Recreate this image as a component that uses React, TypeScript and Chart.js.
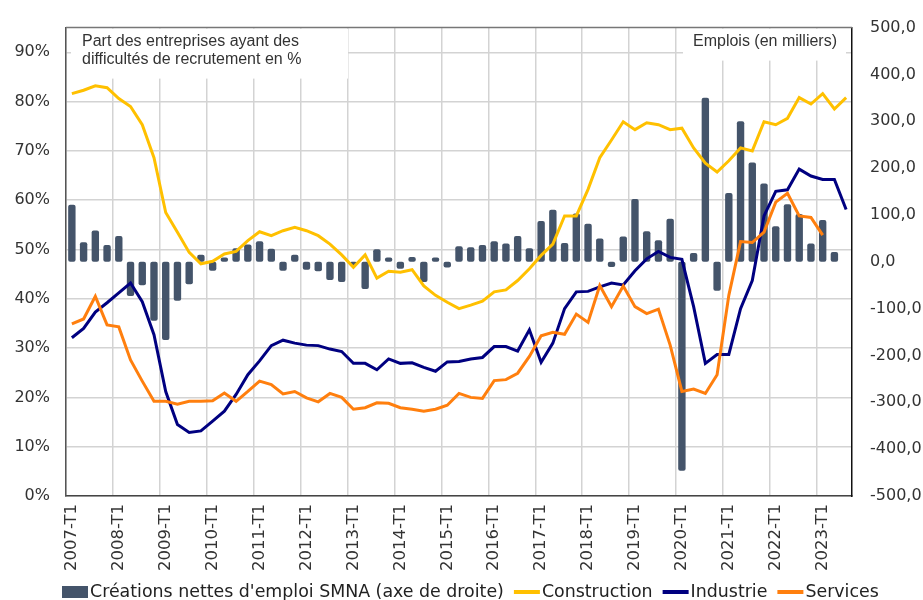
import React, { useEffect, useRef } from 'react';
import { Chart, registerables } from 'chart.js';

Chart.register(...registerables);

const YEARS = [2007, 2008, 2009, 2010, 2011, 2012, 2013, 2014, 2015, 2016, 2017, 2018, 2019, 2020, 2021, 2022, 2023];
const QUARTER_COUNT = 67;
const QUARTERS: string[] = [];
YEARS.forEach((y) => {
  [1, 2, 3, 4].forEach((q) => {
    if (QUARTERS.length < QUARTER_COUNT) QUARTERS.push(`${y}-T${q}`);
  });
});

const NET_JOBS = [
  122, 42, 67, 36, 55, -73, -50, -126, -167, -83, -48, 15, -19, 9, 29, 37,
  44, 28, -19, 15, -17, -20, -39, -43, -8, -58, 27, 9, -15, 10, -43, 9,
  -12, 33, 31, 36, 44, 39, 55, 29, 87, 111, 40, 103, 81, 50, -11, 54,
  134, 65, 46, 92, -446, 19, 350, -62, 147, 300, 212, 167, 76, 123, 102, 39,
  89, 21, null,
];

const CONSTRUCTION = [
  81.6, 82.3, 83.2, 82.8, 80.6, 79.0, 75.3, 68.6, 57.5, 53.5, 49.4, 47.1, 47.6, 49.1, 49.6, 51.8,
  53.6, 52.8, 53.8, 54.5, 53.8, 52.8, 51.1, 48.9, 46.4, 48.9, 44.2, 45.6, 45.4, 45.9, 42.6, 40.7,
  39.3, 38.0, 38.7, 39.5, 41.4, 41.8, 43.7, 46.1, 48.8, 51.1, 56.8, 56.8, 62.2, 68.6, 72.2, 75.9,
  74.3, 75.7, 75.3, 74.3, 74.6, 70.6, 67.5, 65.7, 68.0, 70.6, 70.0, 75.9, 75.3, 76.6, 80.8, 79.5,
  81.6, 78.5, 80.8,
];

const INDUSTRIE = [
  32.1, 34.0, 37.3, 39.2, 41.2, 43.2, 39.4, 32.7, 21.2, 14.5, 12.9, 13.2, 15.2, 17.2, 20.6, 24.6,
  27.4, 30.5, 31.6, 31.0, 30.6, 30.5, 29.8, 29.3, 26.9, 26.9, 25.6, 27.8, 26.9, 27.0, 26.1, 25.3,
  27.2, 27.3, 27.8, 28.1, 30.3, 30.3, 29.4, 33.7, 27.1, 31.0, 38.0, 41.4, 41.5, 42.4, 43.2, 42.8,
  45.7, 48.1, 49.6, 48.4, 48.0, 38.4, 26.9, 28.7, 28.7, 38.0, 43.7, 56.8, 61.8, 62.1, 66.3, 64.9,
  64.2, 64.2, 58.1,
];

const SERVICES = [
  34.9, 35.9, 40.5, 34.7, 34.3, 27.6, 23.3, 19.2, 19.2, 18.6, 19.2, 19.2, 19.3, 20.9, 19.2, 21.2,
  23.3, 22.6, 20.7, 21.2, 19.9, 19.1, 20.8, 20.0, 17.6, 17.9, 18.9, 18.8, 17.9, 17.6, 17.2, 17.6,
  18.4, 20.8, 20.0, 19.8, 23.4, 23.6, 24.9, 28.3, 32.5, 33.2, 32.8, 36.9, 35.2, 42.7, 38.4, 42.6,
  38.4, 37.0, 37.9, 30.6, 21.2, 21.7, 20.8, 24.6, 40.7, 51.6, 51.4, 53.5, 59.6, 61.4, 56.8, 56.5,
  52.9, null, null,
];

const LEFT_TITLE = ['Part des entreprises ayant des', 'difficultés de recrutement en %'];
const RIGHT_TITLE = 'Emplois (en milliers)';
const SERIES_LABELS = ["Créations nettes d'emploi SMNA (axe de droite)", 'Construction', 'Industrie', 'Services'];

const C_BAR = '#44546a';
const C_CONS = '#ffc000';
const C_IND = '#000080';
const C_SERV = '#ff7f0e';
const TICK_FONT = { family: '"DejaVu Sans", sans-serif', size: 16 };
const TEXT = '#333333';
const GRID = '#d3d3d3';

const annotationPlugin = {
  id: 'annotBoxes',
  beforeDatasetsDraw(chart: any) {
    const { ctx, chartArea } = chart;
    ctx.save();
    ctx.fillStyle = '#ffffff';
    ctx.fillRect(chartArea.left + 5, chartArea.top + 1, 277, 50);
    ctx.fillRect(683, chartArea.top + 1, 163, 32);
    ctx.fillStyle = TEXT;
    ctx.font = '16px "Liberation Sans", Arial, sans-serif';
    ctx.textBaseline = 'middle';
    ctx.textAlign = 'left';
    ctx.fillText(LEFT_TITLE[0], 82, 42);
    ctx.fillText(LEFT_TITLE[1], 82, 60);
    ctx.fillText(RIGHT_TITLE, 693, 42);
    ctx.strokeStyle = '#777777';
    ctx.lineWidth = 1.5;
    ctx.beginPath();
    ctx.moveTo(chartArea.left, chartArea.top);
    ctx.lineTo(chartArea.right, chartArea.top);
    ctx.stroke();
    ctx.restore();
  },
};

const legendPlugin = {
  id: 'customLegend',
  afterDraw(chart: any) {
    const { ctx } = chart;
    ctx.save();
    ctx.font = '17.4px "DejaVu Sans", sans-serif';
    ctx.textBaseline = 'middle';
    ctx.textAlign = 'left';
    let x = 62;
    const y = 592;
    chart.data.datasets.forEach((ds: any) => {
      const color = ds.type === 'bar' ? ds.backgroundColor : ds.borderColor;
      ctx.fillStyle = color;
      if (ds.type === 'bar') ctx.fillRect(x, y - 6, 26, 12);
      else ctx.fillRect(x, y - 2, 26, 4);
      x += 28;
      ctx.fillStyle = '#222222';
      ctx.fillText(ds.label, x, y);
      x += ctx.measureText(ds.label).width + 10;
    });
    ctx.restore();
  },
};

export default function App() {
  const canvasRef = useRef<HTMLCanvasElement | null>(null);

  useEffect(() => {
    if (!canvasRef.current) return;
    const chart = new Chart(canvasRef.current, {
      data: {
        labels: QUARTERS,
        datasets: [
          {
            type: 'bar',
            label: SERIES_LABELS[0],
            data: NET_JOBS,
            yAxisID: 'y1',
            backgroundColor: C_BAR,
            barPercentage: 0.63,
            categoryPercentage: 1,
            borderRadius: 2,
            borderSkipped: false,
            order: 4,
          },
          {
            type: 'line',
            label: SERIES_LABELS[1],
            data: CONSTRUCTION,
            yAxisID: 'y',
            borderColor: C_CONS,
            backgroundColor: C_CONS,
            borderWidth: 3,
            pointRadius: 0,
            tension: 0,
            order: 3,
          },
          {
            type: 'line',
            label: SERIES_LABELS[2],
            data: INDUSTRIE,
            yAxisID: 'y',
            borderColor: C_IND,
            backgroundColor: C_IND,
            borderWidth: 3,
            pointRadius: 0,
            tension: 0,
            order: 2,
          },
          {
            type: 'line',
            label: SERIES_LABELS[3],
            data: SERVICES,
            yAxisID: 'y',
            borderColor: C_SERV,
            backgroundColor: C_SERV,
            borderWidth: 3,
            pointRadius: 0,
            tension: 0,
            order: 1,
          },
        ],
      } as any,
      options: {
        responsive: true,
        maintainAspectRatio: false,
        animation: false,
        layout: { padding: { top: 25, bottom: 30, left: 0, right: 0 } },
        plugins: { legend: { display: false }, tooltip: { enabled: false } },
        scales: {
          x: {
            type: 'category',
            offset: true,
            grid: {
              offset: true,
              drawTicks: false,
              lineWidth: 1.5,
              color: (c: any) => (c.index % 4 === 0 ? GRID : 'rgba(0,0,0,0)'),
            },
            border: { display: true, color: '#444444', width: 1.5 },
            ticks: {
              autoSkip: false,
              maxRotation: 90,
              minRotation: 90,
              padding: 8,
              color: TEXT,
              font: { family: '"DejaVu Sans", sans-serif', size: 16.5 },
              callback: (_v: any, i: number) => (i % 4 === 0 ? QUARTERS[i] : ''),
            },
            afterFit: (s: any) => {
              s.height = 74;
            },
          },
          y: {
            position: 'left',
            min: 0,
            max: 95,
            grid: { color: GRID, lineWidth: 1.5, drawTicks: false },
            border: { display: true, color: '#555555', width: 1.5 },
            ticks: {
              stepSize: 10,
              padding: 16,
              color: TEXT,
              font: TICK_FONT,
              callback: (v: any) => `${v}%`,
            },
            afterBuildTicks: (a: any) => {
              a.ticks = a.ticks.filter((t: any) => t.value % 10 === 0);
            },
            afterFit: (s: any) => {
              s.width = 66;
            },
          },
          y1: {
            position: 'right',
            min: -500,
            max: 500,
            grid: { display: false, drawTicks: false },
            border: { display: true, color: '#111111', width: 1.5 },
            ticks: {
              stepSize: 100,
              padding: 18,
              color: TEXT,
              font: TICK_FONT,
              callback: (v: any) => Number(v).toFixed(1).replace('.', ','),
            },
            afterFit: (s: any) => {
              s.width = 71;
            },
          },
        },
      } as any,
      plugins: [annotationPlugin, legendPlugin],
    });
    return () => chart.destroy();
  }, []);

  return (
    <div style={{ position: 'absolute', left: 0, top: 0, width: 923, height: 600, background: '#ffffff' }}>
      <canvas ref={canvasRef} />
    </div>
  );
}
